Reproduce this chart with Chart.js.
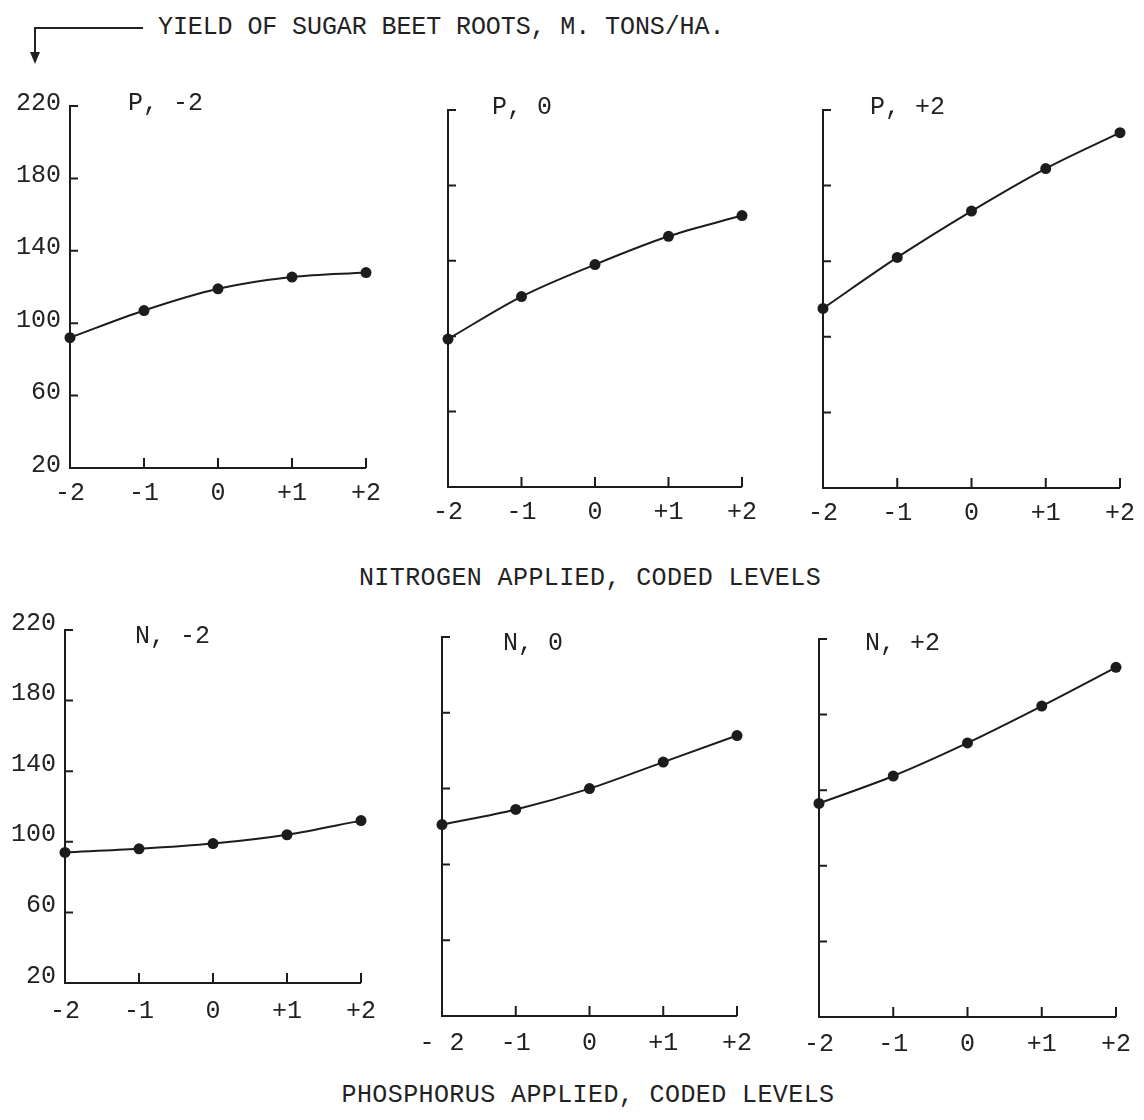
<!DOCTYPE html>
<html>
<head>
<meta charset="utf-8">
<script src="https://cdn.jsdelivr.net/npm/chart.js@4"></script>
<style>
  html, body { margin: 0; padding: 0; background: #fff; overflow: hidden; }
  body { width: 1144px; height: 1120px; position: relative; }
  .panel { position: absolute; }
  .txt {
    position: absolute;
    font-family: "Liberation Mono", "DejaVu Sans Mono", monospace;
    font-size: 25px;
    line-height: 30px;
    color: #222;
    letter-spacing: 0.4px;
    white-space: pre;
  }
</style>
</head>
<body>

<svg style="position:absolute;left:0;top:0" width="160" height="80">
  <polyline points="143,28 35,28 35,56" fill="none" stroke="#222" stroke-width="2"/>
  <polygon points="30,52 40,52 35,64" fill="#222"/>
</svg>
<div class="txt" style="left:158px;top:13px;letter-spacing:-0.1px;">YIELD OF SUGAR BEET ROOTS, M. TONS/HA.</div>
<div class="txt" style="left:590px;top:564px;transform:translateX(-50%);">NITROGEN APPLIED, CODED LEVELS</div>
<div class="txt" style="left:588px;top:1081px;transform:translateX(-50%);">PHOSPHORUS APPLIED, CODED LEVELS</div>

<div class="panel" id="p1"><canvas id="c1"></canvas></div>
<div class="panel" id="p2"><canvas id="c2"></canvas></div>
<div class="panel" id="p3"><canvas id="c3"></canvas></div>
<div class="panel" id="p4"><canvas id="c4"></canvas></div>
<div class="panel" id="p5"><canvas id="c5"></canvas></div>
<div class="panel" id="p6"><canvas id="c6"></canvas></div>

<script>
// coded levels on the x axis
const levels = [-2, -1, 0, 1, 2];
const levelLabels = ["-2", "-1", "0", "+1", "+2"];
const yTicks = [20, 60, 100, 140, 180, 220];

// top row: nitrogen varied, phosphorus fixed
const yieldPminus2 = [92, 107, 119, 125.5, 128];
const yieldP0 = [98.5, 121, 138, 153, 164];
const yieldPplus2 = [115, 142, 166.5, 189, 208];

// bottom row: phosphorus varied, nitrogen fixed
const yieldNminus2 = [94, 96, 99, 104, 112];
const yieldN0 = [121, 129, 140, 154, 168];
const yieldNplus2 = [133, 147.5, 165, 184.5, 205];

const ink = "#1c1c1c";
const font = { family: "'Liberation Mono', 'DejaVu Sans Mono', monospace", size: 25 };

// plot areas on the page: left, right, top, bottom
const panels = [
  { id: "c1", box: "p1", area: [70, 369, 106, 468], data: yieldPminus2, title: "P, -2", tdx: 58, tdy: 4, yLabels: true, yOff: -3, xPad: 10 },
  { id: "c2", box: "p2", area: [448, 745, 110, 487], data: yieldP0, title: "P, 0", tdx: 44, tdy: 4, yLabels: false, yOff: 0, xPad: 10 },
  { id: "c3", box: "p3", area: [823, 1123, 110, 488], data: yieldPplus2, title: "P, +2", tdx: 47, tdy: 4, yLabels: false, yOff: 0, xPad: 10 },
  { id: "c4", box: "p4", area: [65, 367, 630, 983], data: yieldNminus2, title: "N, -2", tdx: 70, tdy: 13, yLabels: true, yOff: -7, xPad: 13 },
  { id: "c5", box: "p5", area: [442, 742, 637, 1016], data: yieldN0, title: "N, 0", tdx: 61, tdy: 13, yLabels: false, yOff: 0, xPad: 12, minusGap: true },
  { id: "c6", box: "p6", area: [819, 1121, 639, 1017], data: yieldNplus2, title: "N, +2", tdx: 46, tdy: 11, yLabels: false, yOff: 0, xPad: 12 }
];

const LEFT = 70, TOP = 30, RIGHT = 22, BOTTOM = 46;

// inward tick marks and panel label
const paperTicks = {
  id: "paperTicks",
  afterDraw(chart, args, opts) {
    const ctx = chart.ctx;
    const xs = chart.scales.x, ys = chart.scales.y;
    const a = chart.chartArea;
    ctx.save();
    ctx.strokeStyle = ink;
    ctx.lineWidth = 2;
    ctx.beginPath();
    yTicks.forEach(function (v) {
      if (v === yTicks[0]) return;
      const py = ys.getPixelForValue(v);
      ctx.moveTo(a.left, py);
      ctx.lineTo(a.left + 8, py);
    });
    levels.forEach(function (v) {
      if (v === levels[0]) return;
      const px = xs.getPixelForValue(v);
      ctx.moveTo(px, a.bottom);
      ctx.lineTo(px, a.bottom - 10);
    });
    ctx.stroke();
    ctx.fillStyle = "#222";
    ctx.font = font.size + "px " + font.family;
    ctx.textBaseline = "alphabetic";
    ctx.fillText(opts.text, a.left + opts.dx, a.top + opts.dy);
    ctx.restore();
  }
};

panels.forEach(function (p) {
  const [L, R, T, B] = p.area;
  const w = R - L + LEFT + RIGHT;
  const h = B - T + TOP + BOTTOM;
  const box = document.getElementById(p.box);
  box.style.left = (L - LEFT) + "px";
  box.style.top = (T - TOP) + "px";
  box.style.width = w + "px";
  box.style.height = h + "px";

  const labels = p.minusGap ? ["- 2", "-1", "0", "+1", "+2"] : levelLabels;

  new Chart(document.getElementById(p.id), {
    type: "line",
    data: {
      datasets: [{
        data: levels.map((x, i) => ({ x: x, y: p.data[i] })),
        borderColor: ink,
        borderWidth: 2,
        backgroundColor: ink,
        pointBackgroundColor: ink,
        pointBorderWidth: 0,
        pointRadius: 5.5,
        cubicInterpolationMode: "monotone",
        clip: false
      }]
    },
    options: {
      responsive: true,
      maintainAspectRatio: false,
      animation: false,
      layout: { padding: { left: 0, top: TOP, right: RIGHT, bottom: 0 } },
      plugins: {
        legend: { display: false },
        tooltip: { enabled: false },
        paperTicks: { text: p.title, dx: p.tdx, dy: p.tdy }
      },
      scales: {
        x: {
          type: "linear",
          min: -2,
          max: 2,
          afterFit: function (s) { s.height = BOTTOM; },
          afterBuildTicks: function (s) { s.ticks = levels.map(v => ({ value: v })); },
          grid: { drawOnChartArea: false, drawTicks: false },
          border: { display: true, color: ink, width: 2 },
          ticks: {
            padding: p.xPad,
            color: "#222",
            font: font,
            maxRotation: 0,
            autoSkip: false,
            callback: function (v) { return labels[levels.indexOf(v)]; }
          }
        },
        y: {
          min: 20,
          max: 220,
          afterFit: function (s) { s.width = LEFT; },
          afterBuildTicks: function (s) { s.ticks = yTicks.map(v => ({ value: v })); },
          grid: { drawOnChartArea: false, drawTicks: false },
          border: { display: true, color: ink, width: 2 },
          ticks: {
            display: p.yLabels,
            padding: 9,
            labelOffset: p.yOff,
            color: "#222",
            font: font
          }
        }
      }
    },
    plugins: [paperTicks]
  });
});
</script>
</body>
</html>
